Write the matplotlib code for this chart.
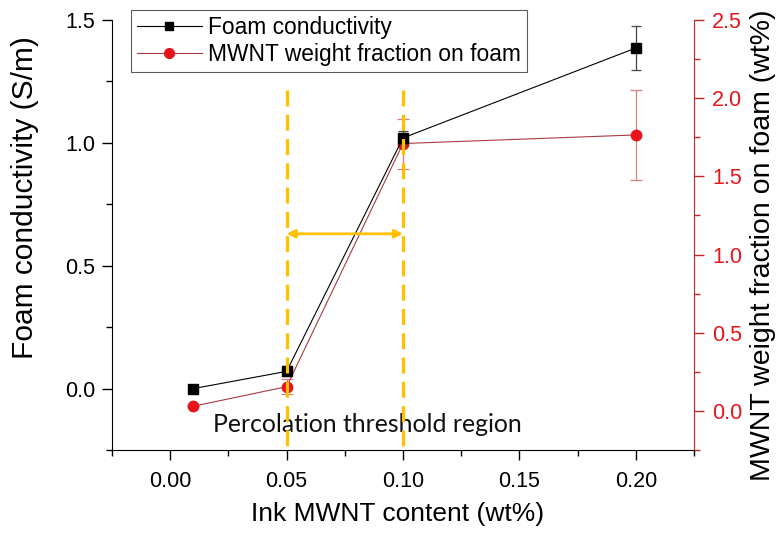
import matplotlib
matplotlib.use("Agg")
import matplotlib.pyplot as plt
from matplotlib.ticker import MultipleLocator
from matplotlib.lines import Line2D

ink = [0.01, 0.05, 0.10, 0.20]
cond = [0.00, 0.07, 1.02, 1.386]
cond_err = [0.0, 0.02, 0.03, 0.088]
frac = [0.03, 0.155, 1.71, 1.765]
frac_err = [0.0, 0.05, 0.16, 0.29]
thresholds = [0.05, 0.10]
x_ticks = [0.00, 0.05, 0.10, 0.15, 0.20]
x_ticklabels = ['0.00', '0.05', '0.10', '0.15', '0.20']
yl_ticks = [0.0, 0.5, 1.0, 1.5]
yl_ticklabels = ['0.0', '0.5', '1.0', '1.5']
yr_ticks = [0.0, 0.5, 1.0, 1.5, 2.0, 2.5]
yr_ticklabels = ['0.0', '0.5', '1.0', '1.5', '2.0', '2.5']

plt.rcParams['font.family'] = ['Liberation Sans', 'DejaVu Sans']

fig = plt.figure(figsize=(7.79, 5.33), dpi=100)
ax = fig.add_axes([112/779, 1-450/533, (694-112)/779, (450-20)/533])
ax2 = ax.twinx()

red = '#E8141C'
dred = '#C0282D'
orange = '#FFC000'

ax.errorbar(ink, cond, yerr=cond_err, color='black', lw=0.8, marker='s', ms=6.5,
            mfc='black', mec='black', ecolor='#444444', elinewidth=0.9, capsize=3.5,
            capthick=0.9, zorder=3)
ax2.errorbar(ink, frac, yerr=frac_err, color='#A83A42', lw=0.8, marker='o', ms=7.5,
             mfc=red, mec=red, ecolor='#D88080', elinewidth=0.9, capsize=4,
             capthick=0.9, zorder=3)

for t in thresholds:
    ax.plot([t, t], [1.215, -0.25], color=orange, lw=2.3, ls=(0, (5, 2.6)), zorder=4)
ax.annotate('', xy=(thresholds[1], 0.63), xytext=(thresholds[0], 0.63),
            arrowprops=dict(arrowstyle='<|-|>', color=orange, lw=2, mutation_scale=12,
                            shrinkA=0, shrinkB=0),
            zorder=4)
ax.text(0.0185, -0.147, 'Percolation threshold region', fontsize=17.8,
        family=['Lato', 'DejaVu Sans'], va='center', ha='left', color='#111111')

ax.set_xlim(-0.025, 0.225)
ax.set_ylim(-0.25, 1.5)
ax2.set_ylim(-0.25, 2.5)

ax.set_xticks(x_ticks)
ax.set_xticklabels(x_ticklabels)
ax.xaxis.set_minor_locator(MultipleLocator(0.025))
ax.set_yticks(yl_ticks)
ax.set_yticklabels(yl_ticklabels)
ax.yaxis.set_minor_locator(MultipleLocator(0.25))
ax2.set_yticks(yr_ticks)
ax2.set_yticklabels(yr_ticklabels)
ax2.yaxis.set_minor_locator(MultipleLocator(0.25))

for a in (ax, ax2):
    a.spines['top'].set_visible(False)
ax.spines['right'].set_visible(False)
ax2.spines['right'].set_color(dred)
ax2.spines['left'].set_visible(False)
ax2.spines['bottom'].set_visible(False)

ax.tick_params(axis='x', which='major', direction='out', length=7, width=1, labelsize=15.5, pad=8)
ax.tick_params(axis='y', which='major', direction='out', length=7, width=1, labelsize=15.5, pad=5)
ax.tick_params(axis='both', which='minor', direction='out', length=4, width=1)
ax2.tick_params(axis='y', which='major', direction='out', length=7, width=1, labelsize=15.5,
                colors=dred, labelcolor=red, pad=6)
ax2.tick_params(axis='y', which='minor', direction='out', length=4, width=1, colors=dred)

ax.set_xlabel('Ink MWNT content (wt%)', fontsize=19)
ax.xaxis.set_label_coords(0.49, -0.12)
ax.set_ylabel('Foam conductivity (S/m)', fontsize=21.5, va='center')
ax.yaxis.set_label_coords(-0.149, 0.588)
ax2.set_ylabel('MWNT weight fraction on foam (wt%)', fontsize=20.5, va='center')
ax2.yaxis.set_label_coords((763-112)/582, 0.477)

handles = [
    Line2D([], [], color='black', lw=0.8, marker='s', ms=6, mfc='black', mec='black'),
    Line2D([], [], color='#A83A42', lw=0.8, marker='o', ms=7, mfc=red, mec=red),
]
labels = ['Foam conductivity', 'MWNT weight fraction on foam']
leg = ax.legend(handles, labels, loc='upper left',
                bbox_to_anchor=((131-112)/582, (450-10)/430),
                fontsize=16.4, frameon=True, fancybox=False, edgecolor='#333333',
                handlelength=2.85, handletextpad=0.3, borderpad=0.25, labelspacing=0.2,
                borderaxespad=0)
leg.get_frame().set_linewidth(0.8)
ax.set_zorder(ax2.get_zorder() + 1)
ax.patch.set_visible(False)

fig.savefig('out.png', dpi=100)
